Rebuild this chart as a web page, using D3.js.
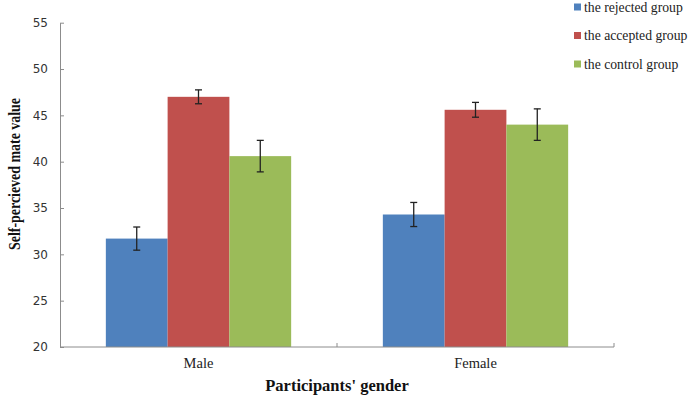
<!DOCTYPE html>
<html>
<head>
<meta charset="utf-8">
<script src="https://cdn.jsdelivr.net/npm/d3@7"></script>
<style>
  body { margin: 0; background: #fff; }
  svg { display: block; }
</style>
</head>
<body>
<div id="chart"></div>
<script>
// data
let genders = ['Male', 'Female'];
let groups = ['the rejected group', 'the accepted group', 'the control group'];
let groupColors = ['#4f81bd', '#c0504d', '#9bbb59'];
let rejected = [31.7, 34.3];
let accepted = [47.0, 45.6];
let control = [40.6, 44.0];
let rejectedErr = [1.25, 1.3];
let acceptedErr = [0.75, 0.8];
let controlErr = [1.7, 1.7];
let yTicks = [20, 25, 30, 35, 40, 45, 50, 55];

let width = 693;
let height = 398;
let plotLeft = 60, plotRight = 614, plotTop = 22.7, plotBottom = 347;

let rows = [];
genders.forEach(function(g, i) {
  rows.push({ gender: g, group: groups[0], value: rejected[i], err: rejectedErr[i] });
  rows.push({ gender: g, group: groups[1], value: accepted[i], err: acceptedErr[i] });
  rows.push({ gender: g, group: groups[2], value: control[i], err: controlErr[i] });
});

let svg = d3.select('#chart')
  .append('svg')
  .attr('width', width)
  .attr('height', height);

let x0 = d3.scaleBand().domain(genders).range([plotLeft, plotRight]).paddingInner(0.331).paddingOuter(0.1655);
let x1 = d3.scaleBand().domain(groups).range([0, x0.bandwidth()]);
let y = d3.scaleLinear().domain([20, 55]).range([plotBottom, plotTop]);
let color = d3.scaleOrdinal().domain(groups).range(groupColors);

// bars
svg.append('g').selectAll('rect')
  .data(rows)
  .enter()
  .append('rect')
  .attr('x', d => x0(d.gender) + x1(d.group))
  .attr('y', d => y(d.value))
  .attr('width', x1.bandwidth())
  .attr('height', d => y(20) - y(d.value))
  .attr('fill', d => color(d.group));

// error bars
let eb = svg.append('g').attr('stroke', '#222').attr('stroke-width', 1.3);
rows.forEach(function(d) {
  let cx = x0(d.gender) + x1(d.group) + x1.bandwidth() / 2;
  eb.append('line').attr('x1', cx).attr('x2', cx).attr('y1', y(d.value + d.err)).attr('y2', y(d.value - d.err));
  eb.append('line').attr('x1', cx - 3.5).attr('x2', cx + 3.5).attr('y1', y(d.value + d.err)).attr('y2', y(d.value + d.err));
  eb.append('line').attr('x1', cx - 3.5).attr('x2', cx + 3.5).attr('y1', y(d.value - d.err)).attr('y2', y(d.value - d.err));
});

// y axis (ticks point inward)
let yAxis = svg.append('g')
  .attr('transform', 'translate(' + plotLeft + ',0)')
  .call(d3.axisRight(y).tickValues(yTicks).tickSize(4).tickSizeOuter(0).tickFormat(d3.format('d')));
yAxis.select('.domain').attr('stroke', '#8c8c8c');
yAxis.selectAll('.tick line').attr('stroke', '#8c8c8c');
yAxis.selectAll('.tick text')
  .attr('x', -12)
  .attr('text-anchor', 'end')
  .attr('fill', '#333')
  .style('font-family', 'Verdana, "DejaVu Sans", sans-serif')
  .style('font-size', '12px');

// x axis: tick marks at group boundaries, pointing up
svg.append('line')
  .attr('x1', plotLeft).attr('x2', plotRight)
  .attr('y1', plotBottom).attr('y2', plotBottom)
  .attr('stroke', '#8c8c8c');
let bounds = [x0.range()[0], (x0('Male') + x0.bandwidth() + x0('Female')) / 2, x0.range()[1]];
svg.append('g').selectAll('line')
  .data(bounds.slice(1))
  .enter()
  .append('line')
  .attr('x1', d => d).attr('x2', d => d)
  .attr('y1', plotBottom).attr('y2', plotBottom - 4)
  .attr('stroke', '#8c8c8c');

svg.append('g').selectAll('text')
  .data(genders)
  .enter()
  .append('text')
  .attr('x', d => x0(d) + x0.bandwidth() / 2)
  .attr('y', 368)
  .attr('text-anchor', 'middle')
  .attr('fill', '#222')
  .style('font-family', '"Liberation Serif", "Times New Roman", serif')
  .style('font-size', '14.5px')
  .text(d => d);

// axis titles
svg.append('text')
  .attr('x', 337)
  .attr('y', 391)
  .attr('text-anchor', 'middle')
  .attr('fill', '#111')
  .style('font-family', '"Liberation Serif", "Times New Roman", serif')
  .style('font-size', '16.5px')
  .style('font-weight', 'bold')
  .text("Participants' gender");

svg.append('text')
  .attr('transform', 'translate(20,174) rotate(-90)')
  .attr('text-anchor', 'middle')
  .attr('textLength', 152)
  .attr('lengthAdjust', 'spacingAndGlyphs')
  .attr('fill', '#111')
  .style('font-family', '"Liberation Serif", "Times New Roman", serif')
  .style('font-size', '16px')
  .style('font-weight', 'bold')
  .text('Self-percieved mate value');

// legend
let legend = svg.append('g').selectAll('g')
  .data(groups)
  .enter()
  .append('g')
  .attr('transform', (d, i) => 'translate(574,' + (7 + i * 28.5) + ')');
legend.append('rect')
  .attr('x', 0).attr('y', -3.5)
  .attr('width', 7).attr('height', 7)
  .attr('fill', d => color(d));
legend.append('text')
  .attr('x', 10)
  .attr('y', 4.5)
  .attr('fill', '#222')
  .style('font-family', '"Liberation Serif", "Times New Roman", serif')
  .style('font-size', '13.7px')
  .text(d => d);
</script>
</body>
</html>
